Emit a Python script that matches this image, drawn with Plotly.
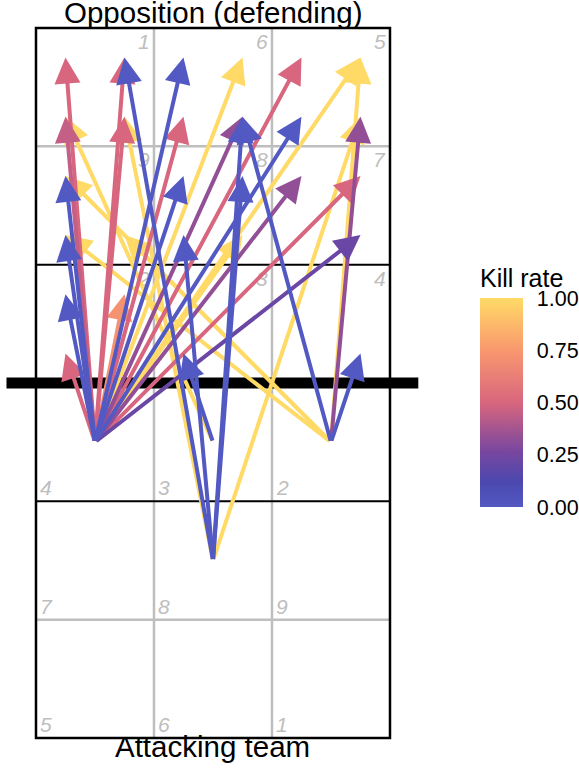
import plotly.graph_objects as go
from plotly.colors import sample_colorscale

# ---- data (court coordinates: x 0.5-3.5, y 0.5-6.5, net at 3.5) ----
start_x = [1.0, 1.0, 1.0, 1.0, 1.0, 1.0, 1.0, 1.0, 1.0, 1.0, 1.0,
           1.0, 1.0, 1.0, 1.0, 1.0, 1.0, 1.0, 1.0, 1.0, 1.0,
           2.0, 2.0, 2.0, 2.0, 2.0, 2.0,
           3.0, 3.0, 3.0, 3.0, 3.0, 3.0, 3.0,
           2.0, 2.0]
start_y = [3.0, 3.0, 3.0, 3.0, 3.0, 3.0, 3.0, 3.0, 3.0, 3.0, 3.0,
           3.0, 3.0, 3.0, 3.0, 3.0, 3.0, 3.0, 3.0, 3.0, 3.0,
           2.0, 2.0, 2.0, 2.0, 2.0, 2.0,
           3.0, 3.0, 3.0, 3.0, 3.0, 3.0, 3.0,
           3.0, 3.0]
end_x = [0.75, 1.25, 1.75, 2.25, 2.75, 3.25, 0.75, 1.25, 1.75, 2.25, 2.75,
         0.75, 1.75, 2.75, 3.25, 0.75, 2.25, 3.25, 0.75, 1.25, 0.75,
         1.25, 2.25, 2.25, 1.75, 1.25, 3.25,
         3.25, 3.25, 2.25, 0.75, 0.75, 1.25, 3.25,
         1.75, 0.75]
end_y = [6.25, 6.25, 6.25, 6.25, 6.25, 6.25, 5.75, 5.75, 5.75, 5.75, 5.75,
         5.25, 5.25, 5.25, 5.25, 4.75, 4.75, 4.75, 4.25, 4.25, 3.75,
         6.25, 5.75, 5.25, 4.75, 5.75, 5.75,
         6.25, 5.75, 5.75, 5.25, 4.75, 4.75, 3.75,
         3.75, 5.75]
kill_rate = [0.5, 0.5, 0.0, 1.0, 0.5, 1.0, 0.45, 0.5, 0.5, 0.33, 0.0,
             0.0, 0.0, 0.33, 0.5, 0.0, 1.0, 0.22, 0.0, 0.72, 0.5,
             0.0, 0.0, 0.0, 0.0, 1.0, 1.0,
             1.0, 0.33, 0.0, 1.0, 1.0, 1.0, 0.0,
             0.0, 1.0]

# zone numbers
zones_attack = ["4", "3", "2", "7", "8", "9", "5", "6", "1"]
zones_defend = ["2", "3", "4", "9", "8", "7", "1", "6", "5"]
colorbar_ticks = [0.0, 0.25, 0.5, 0.75, 1.0]
colorbar_labels = ["0.00", "0.25", "0.50", "0.75", "1.00"]

KILL_SCALE = [[0.0, "#5359C2"], [0.12, "#4B48AF"], [0.27, "#7A479F"],
              [0.5, "#D8667E"], [0.75, "#F9986E"], [1.0, "#FFDA66"]]

FONT = "Liberation Sans, Arial, Helvetica, sans-serif"
GREY = "#BEBEBE"
W, H = 579, 769

fig = go.Figure()

# ---- court ----
shapes = []
for xv in (1.5, 2.5):
    shapes.append(dict(type="line", x0=xv, x1=xv, y0=0.5, y1=6.5,
                       line=dict(color=GREY, width=2.5), layer="below"))
for yv in (1.5, 5.5):
    shapes.append(dict(type="line", x0=0.5, x1=3.5, y0=yv, y1=yv,
                       line=dict(color=GREY, width=2.5), layer="below"))
for yv in (2.5, 4.5):
    shapes.append(dict(type="line", x0=0.5, x1=3.5, y0=yv, y1=yv,
                       line=dict(color="black", width=2), layer="below"))
shapes.append(dict(type="rect", x0=0.5, x1=3.5, y0=0.5, y1=6.5,
                   line=dict(color="black", width=2.5), layer="below"))
shapes.append(dict(type="line", x0=0.25, x1=3.74, y0=3.5, y1=3.5,
                   line=dict(color="black", width=11), layer="below"))

annotations = []
for i, lab in enumerate(zones_attack):
    col = i % 3
    row = i // 3
    annotations.append(dict(x=0.5 + col + 0.02, y=2.5 - row, xref="x", yref="y",
                            text="<i>" + lab + "</i>", showarrow=False,
                            xanchor="left", yanchor="bottom",
                            font=dict(family=FONT, size=21, color=GREY)))
for i, lab in enumerate(zones_defend):
    col = i % 3
    row = i // 3
    annotations.append(dict(x=1.5 + col - 0.02, y=4.5 + row, xref="x", yref="y",
                            text="<i>" + lab + "</i>", showarrow=False,
                            xanchor="right", yanchor="top",
                            font=dict(family=FONT, size=21, color=GREY)))

# ---- arrows (annotation arrows in data coordinates), high kill rate drawn first ----
order = sorted(range(len(kill_rate)), key=lambda k: -kill_rate[k])
for k in order:
    col = sample_colorscale(KILL_SCALE, [kill_rate[k]])[0]
    annotations.append(dict(
        x=end_x[k], y=end_y[k], xref="x", yref="y",
        ax=start_x[k], ay=start_y[k], axref="x", ayref="y",
        text="", showarrow=True, arrowhead=2, arrowsize=1.3, arrowwidth=4,
        arrowcolor=col, standoff=0, startstandoff=0))

annotations.append(dict(x=2.0, y=6.635, xref="x", yref="y", text="Opposition (defending)",
                        showarrow=False, xanchor="center", yanchor="middle",
                        font=dict(family=FONT, size=29.5, color="black")))
annotations.append(dict(x=2.0, y=0.424, xref="x", yref="y", text="Attacking team",
                        showarrow=False, xanchor="center", yanchor="middle",
                        font=dict(family=FONT, size=29.5, color="black")))

# colorbar carrier
fig.add_trace(go.Scatter(
    x=[1.0], y=[3.0], mode="markers",
    marker=dict(size=1, opacity=0, color=[0.5], cmin=0, cmax=1,
                colorscale=KILL_SCALE, showscale=True,
                colorbar=dict(
                    x=480 / W, xanchor="left", y=1 - 386 / H, yanchor="middle",
                    lenmode="pixels", len=242, thickness=43, outlinewidth=0,
                    xpad=0, ypad=0,
                    tickvals=colorbar_ticks, ticktext=colorbar_labels,
                    ticks="outside", ticklen=10, tickcolor="rgba(0,0,0,0)",
                    tickfont=dict(family=FONT, size=21.5, color="black"),
                    title=dict(text="Kill rate", side="top",
                               font=dict(family=FONT, size=25, color="black")))),
    hoverinfo="skip", showlegend=False))

fig.update_layout(
    width=W, height=H,
    margin=dict(l=0, r=0, t=0, b=0, pad=0),
    paper_bgcolor="white", plot_bgcolor="white",
    shapes=shapes, annotations=annotations,
    xaxis=dict(range=[0.195, 0.195 + W / 118.0], visible=False, showgrid=False,
               zeroline=False, fixedrange=True),
    yaxis=dict(range=[0.238, 6.737], visible=False, showgrid=False,
               zeroline=False, fixedrange=True),
    showlegend=False,
)

fig.write_html("out.html", config={"displayModeBar": False},
               post_script="document.body.style.margin='0px';")
